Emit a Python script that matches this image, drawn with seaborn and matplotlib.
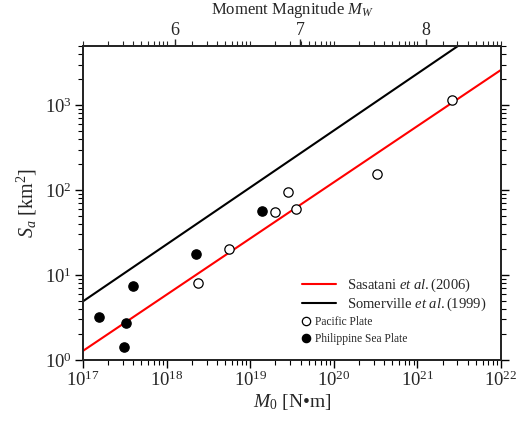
import numpy as np
import pandas as pd
import matplotlib
matplotlib.use("Agg")
import matplotlib.pyplot as plt
import seaborn as sns
from matplotlib.ticker import LogLocator, FixedLocator, FixedFormatter, NullFormatter
from matplotlib.lines import Line2D

# ---- data ----
pac_m0 = [2.4e18, 5.6e18, 2.0e19, 2.86e19, 3.53e19, 3.29e20, 2.62e21]
pac_sa = [8.1, 20.2, 55.3, 94, 60.4, 155, 1150]
phs_m0 = [1.57e17, 3.1e17, 3.3e17, 4.0e17, 2.27e18, 1.40e19]
phs_sa = [3.2, 1.41, 2.69, 7.5, 17.8, 56.8]
line_m0 = [1e17, 1e22]
sasatani_sa = [1.28, 2600]
somerville_sa = [4.9, 11000]
mw_ticks = [6, 7, 8]

sns.set_style("ticks")
plt.rcParams["font.family"] = ["Liberation Serif", "DejaVu Serif"]
plt.rcParams["mathtext.fontset"] = "custom"
plt.rcParams["mathtext.rm"] = "Liberation Serif"
plt.rcParams["mathtext.it"] = "Liberation Serif:italic"
plt.rcParams["mathtext.bf"] = "Liberation Serif:bold"

fig = plt.figure(figsize=(5.22, 4.23), dpi=100)
ax = fig.add_axes([0.159, 0.149, 0.801, 0.743])

lines_df = pd.DataFrame({"M0": line_m0 * 2,
                         "Sa": sasatani_sa + somerville_sa,
                         "model": ["Sasatani"] * 2 + ["Somerville"] * 2})
sns.lineplot(data=lines_df, x="M0", y="Sa", hue="model",
             palette={"Sasatani": "#ff0000", "Somerville": "#000000"},
             linewidth=1.5, legend=False, ax=ax)

sns.scatterplot(x=pac_m0, y=pac_sa, marker="o", s=45, facecolor="white",
                edgecolor="black", linewidth=0.9, ax=ax, zorder=5)
sns.scatterplot(x=phs_m0, y=phs_sa, marker="o", s=45, color="black",
                edgecolor="black", linewidth=0.9, ax=ax, zorder=5)

ax.set_xscale("log")
ax.set_yscale("log")
ax.set_xlim(1e17, 1e22)
ax.set_ylim(1, 5000)

ax.xaxis.set_major_locator(LogLocator(base=10, numticks=10))
ax.xaxis.set_minor_locator(LogLocator(base=10, subs=np.arange(2, 10), numticks=50))
ax.yaxis.set_major_locator(FixedLocator([1, 10, 100, 1000]))
ax.yaxis.set_minor_locator(LogLocator(base=10, subs=np.arange(2, 10), numticks=50))
ax.yaxis.set_minor_formatter(NullFormatter())
ax.xaxis.set_minor_formatter(NullFormatter())

for sp in ax.spines.values():
    sp.set_linewidth(1.2)
    sp.set_color("black")
    sp.set_visible(True)

ax.tick_params(which="major", direction="out", length=6, width=1.0,
               labelsize=13.5, right=True, color="black")
ax.tick_params(which="minor", direction="out", length=3.5, width=0.8,
               right=True, color="black")
ax.tick_params(axis="both", pad=2)

ax.set_xlabel("$M_0$ [N\u2022m]", fontsize=14, labelpad=1)
ax.set_ylabel(r"$S_a$ [km$^2$]", fontsize=14.5, labelpad=4)

# top axis: moment magnitude
top = ax.twiny()
top.set_xscale("log")
top.set_xlim(ax.get_xlim())
mw_pos = [10 ** (1.5 * m + 9.1) for m in mw_ticks]
top.xaxis.set_major_locator(FixedLocator(mw_pos))
top.xaxis.set_major_formatter(FixedFormatter([str(m) for m in mw_ticks]))
top.xaxis.set_minor_locator(LogLocator(base=10, subs=np.arange(1, 10), numticks=50))
top.xaxis.set_minor_formatter(NullFormatter())
top.tick_params(which="major", direction="out", length=5, width=1.0, labelsize=13, pad=-0.5)
top.tick_params(which="minor", direction="out", length=3.5, width=0.8)
for sp in top.spines.values():
    sp.set_linewidth(1.2)
top.set_xlabel(r"Moment Magnitude $M_W$", fontsize=12, labelpad=6)

# legends
h1 = [Line2D([], [], color="#ff0000", lw=1.5), Line2D([], [], color="black", lw=1.5)]
leg1 = ax.legend(h1, [r"Sasatani $\mathit{et\ al.}$(2006)", r"Somerville $\mathit{et\ al.}$(1999)"],
                 loc="upper left", bbox_to_anchor=(0.524, 0.265), frameon=False,
                 fontsize=10.5, handlelength=2.3, handletextpad=0.75, labelspacing=0.12,
                 borderpad=0, borderaxespad=0)
ax.add_artist(leg1)
h2 = [Line2D([], [], ls="none", marker="o", markersize=6, mfc="white", mec="black", mew=0.9),
      Line2D([], [], ls="none", marker="o", markersize=6, mfc="black", mec="black", mew=0.9)]
leg2 = ax.legend(h2, ["Pacific Plate", "Philippine Sea Plate"],
                 loc="upper left", bbox_to_anchor=(0.522, 0.14), frameon=False,
                 fontsize=8.3, handlelength=0.8, handletextpad=0.35, labelspacing=0.4,
                 borderpad=0, borderaxespad=0)

fig.savefig("out.png", dpi=100)
